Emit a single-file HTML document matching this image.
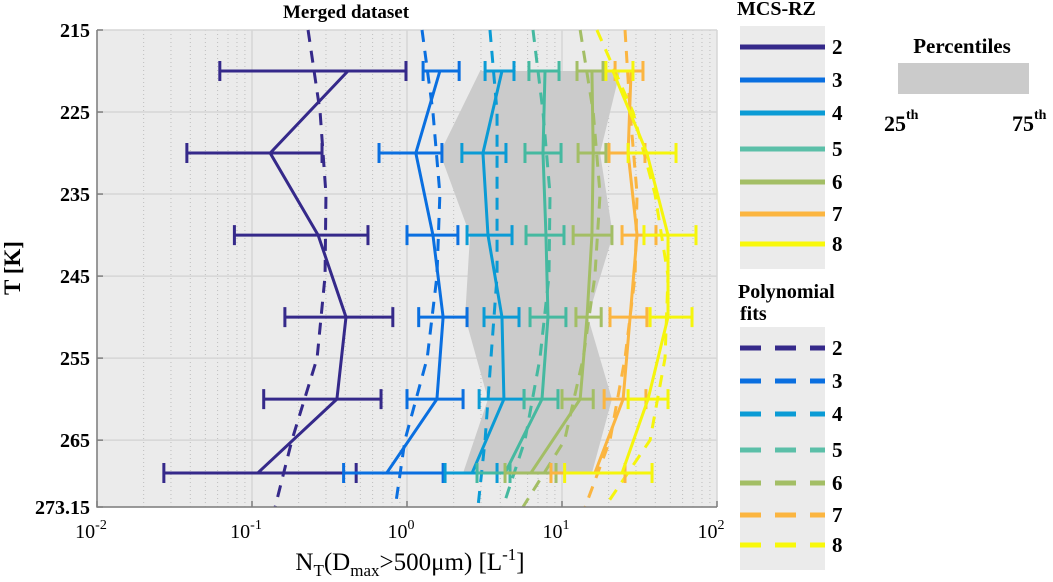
<!DOCTYPE html>
<html><head><meta charset="utf-8">
<style>
html,body{margin:0;padding:0;background:#fff;}
svg{display:block;font-family:"Liberation Serif",serif;}
</style></head>
<body>
<svg id="chart" width="1053" height="582" viewBox="0 0 1053 582" xmlns="http://www.w3.org/2000/svg">
<rect x="97" y="30" width="620" height="477" fill="#ebebeb"/>
<g id="grid"></g>
<polygon id="pct" fill="#cbcbcb"/>
<g id="fits"></g>
<g id="series"></g>
<g id="axes"></g>
<text x="346" y="18" font-size="19" font-weight="bold" text-anchor="middle">Merged dataset</text>
<text transform="translate(20,268) rotate(-90)" font-size="23" font-weight="bold" text-anchor="middle">T [K]</text>
<text x="410" y="570" font-size="25" text-anchor="middle">N<tspan font-size="17" dy="6">T</tspan><tspan dy="-6">(D</tspan><tspan font-size="17" dy="6">max</tspan><tspan dy="-6">&gt;500μm) [L</tspan><tspan font-size="17" dy="-10">-1</tspan><tspan dy="10">]</tspan></text>
<g id="legend1">
<text x="737" y="15" font-size="20" font-weight="bold">MCS-RZ</text>
<rect x="740" y="26" width="85" height="243" fill="#ebebeb"/>
</g>
<g id="legend2">
<text x="738" y="298" font-size="20" font-weight="bold">Polynomial</text>
<text x="740" y="320" font-size="20" font-weight="bold">fits</text>
<rect x="740" y="327" width="85" height="243" fill="#ebebeb"/>
</g>
<g>
<text x="962" y="53" font-size="21" font-weight="bold" text-anchor="middle">Percentiles</text>
<rect x="898" y="63" width="131" height="31" fill="#cbcbcb"/>
<text x="884" y="131" font-size="22" font-weight="bold">25<tspan font-size="14" dy="-12">th</tspan></text>
<text x="1012" y="131" font-size="22" font-weight="bold">75<tspan font-size="14" dy="-12">th</tspan></text>
</g>
</svg>
<script>
const rowT=[220,230,240,250,260,269];
const fitT=[215,225,235,245,255,265,273.15];
const labels=["2","3","4","5","6","7","8"];
const s2c=[0.416,0.131,0.267,0.404,0.353,0.109], s2lo=[0.062,0.038,0.077,0.163,0.119,0.027], s2hi=[0.985,0.283,0.56,0.81,0.68,0.47];
const s3c=[1.63,1.14,1.47,1.71,1.56,0.74], s3lo=[1.27,0.66,1.0,1.19,1.0,0.39], s3hi=[2.17,1.68,2.13,2.44,2.30,1.71];
const s4c=[4.10,3.09,3.33,4.10,4.22,2.63], s4lo=[3.19,2.26,2.44,3.14,2.92,1.76], s4hi=[4.90,4.35,4.76,5.28,5.69,3.81];
const s5c=[7.77,7.54,7.88,8.12,7.43,4.29], s5lo=[6.12,5.77,5.86,6.22,5.69,2.83], s5hi=[9.57,9.86,10.3,10.6,9.42,4.62];
const s6c=[15.6,15.9,15.6,14.5,13.1,6.3], s6lo=[12.5,12.7,11.8,12.3,10.0,4.29], s6hi=[18.4,19.2,21.0,17.9,15.9,9.15];
const s7c=[27.9,26.7,30.5,27.5,24.8,16.3], s7lo=[22.0,20.1,24.4,20.4,18.7,8.49], s7hi=[33.3,34.3,40.4,35.3,34.8,25.5];
const s8c=[21.3,35.3,48.3,48.3,35.9,24.4], s8lo=[19.2,26.7,33.8,37.0,26.7,10.4], s8hi=[28.7,54.4,73.2,69.0,48.3,38.1];
const f2=[0.23,0.275,0.30,0.296,0.263,0.181,0.141];
const f3=[1.25,1.47,1.63,1.56,1.35,0.97,0.84];
const f4=[3.43,3.81,3.81,3.81,3.48,3.19,2.87];
const f5=[6.5,7.54,8.37,8.24,7.21,5.77,4.16];
const f6=[13.1,15.9,17.6,16.3,13.7,10.4,5.6];
const f7=[25.5,27.5,30.5,29.6,25.5,20.4,14.1];
const f8=[16.8,28.7,39.8,48.3,46.2,37.0,18.9];
const p25=[2.96,1.63,2.55,2.37,3.33,2.30];
const p75=[23.7,17.6,21.3,14.7,21.0,15.6];
const colors=["#35298a","#0a6fe0","#0a9bd5","#45b9a0","#a3be65","#fbb540","#f5f50c"];
const legendColors=["#35298a","#0a6fe0","#0a9bd5","#5bbfa8","#a3be65","#fbb540","#f8f80a"];
const yTicks=[215,225,235,245,255,265,273.15];
const xTicks=[-2,-1,0,1,2];

const NS="http://www.w3.org/2000/svg";
const X0=97,X1=717,Y0=30,Y1=507;
function xs(v){return X0+(Math.log10(v)+2)/4*(X1-X0);}
function ys(t){return Y0+(t-215)/(273.15-215)*(Y1-Y0);}
function mk(tag,attrs,parent){const e=document.createElementNS(NS,tag);for(const k in attrs)e.setAttribute(k,attrs[k]);parent.appendChild(e);return e;}

const grid=document.getElementById('grid');
for(let d=-2;d<2;d++){for(let m=2;m<=9;m++){const x=xs(m*Math.pow(10,d));
 const l=mk('line',{x1:x,x2:x,y1:Y0,y2:Y1,stroke:'#bdbdbd','stroke-width':1,'stroke-dasharray':'1,3'},grid);
 
 }}
xTicks.forEach(p=>{const x=xs(Math.pow(10,p));const l=mk('line',{x1:x,x2:x,y1:Y0,y2:Y1,stroke:'#d6d6d6','stroke-width':1.5},grid);
 
 });
yTicks.forEach(t=>{const y=ys(t);const l=mk('line',{x1:X0,x2:X1,y1:y,y2:y,stroke:'#d6d6d6','stroke-width':1.5},grid);
 
 });

const pts=[];rowT.forEach((t,i)=>pts.push(xs(p25[i])+','+ys(t)));
for(let i=rowT.length-1;i>=0;i--)pts.push(xs(p75[i])+','+ys(rowT[i]));
document.getElementById('pct').setAttribute('points',pts.join(' '));

const fits=[f2,f3,f4,f5,f6,f7,f8];
const fg=document.getElementById('fits');
fits.forEach((f,k)=>{const p=mk('polyline',{points:f.map((v,i)=>xs(v)+','+ys(fitT[i])).join(' '),fill:'none',stroke:colors[k],'stroke-width':3,'stroke-dasharray':'12,9'},fg);
 
 });

const C=[s2c,s3c,s4c,s5c,s6c,s7c,s8c],LO=[s2lo,s3lo,s4lo,s5lo,s6lo,s7lo,s8lo],HI=[s2hi,s3hi,s4hi,s5hi,s6hi,s7hi,s8hi];
const sg=document.getElementById('series');
C.forEach((c,k)=>{const g=mk('g',{},sg);
 
 
 rowT.forEach((t,i)=>{const y=ys(t),a=xs(LO[k][i]),b=xs(HI[k][i]);
  const e=mk('path',{d:`M${a},${y}H${b}M${a},${y-10}V${y+10}M${b},${y-10}V${y+10}`,stroke:colors[k],'stroke-width':3,fill:'none'},g);
  
  });
 const p=mk('polyline',{points:c.map((v,i)=>xs(v)+','+ys(rowT[i])).join(' '),fill:'none',stroke:colors[k],'stroke-width':3},g);
 
 });

const ax=document.getElementById('axes');
const ab=mk('path',{d:`M${X0},${Y0}V${Y1}H${X1}`,stroke:'#7f7f7f','stroke-width':1.5,fill:'none'},ax);


yTicks.forEach(t=>{const y=ys(t);
 mk('line',{x1:X0,x2:X0+6,y1:y,y2:y,stroke:'#7f7f7f','stroke-width':1.5},ax);
 const tx=mk('text',{x:X0-7,y:y+7,'font-size':20,'font-weight':'bold','text-anchor':'end'},ax);tx.textContent=String(t);
 
 });
xTicks.forEach(p=>{const x=xs(Math.pow(10,p));
 mk('line',{x1:x,x2:x,y1:Y1,y2:Y1-6,stroke:'#7f7f7f','stroke-width':1.5},ax);
 const tx=mk('text',{x:x-6,y:Y1+31,'font-size':20,'text-anchor':'middle'},ax);
 
 
 tx.appendChild(document.createTextNode('10'));
 const sp=document.createElementNS(NS,'tspan');sp.setAttribute('font-size','14');sp.setAttribute('dy','-9');sp.textContent=String(p);tx.appendChild(sp);});

const l1Y=[47,80,113,149,182,214,244];
const l2Y=[348,381,414,450,483,515,545];
const L1=document.getElementById('legend1'),L2=document.getElementById('legend2');
labels.forEach((lab,k)=>{
 const a=mk('line',{x1:740,x2:825,y1:l1Y[k],y2:l1Y[k],stroke:legendColors[k],'stroke-width':5},L1);
 
 
 const t=mk('text',{x:832,y:l1Y[k]+7,'font-size':21,'font-weight':'bold'},L1);t.textContent=lab;
 
 
 const b=mk('line',{x1:740,x2:825,y1:l2Y[k],y2:l2Y[k],stroke:legendColors[k],'stroke-width':5,'stroke-dasharray':'21,14'},L2);
 
 
 const u=mk('text',{x:832,y:l2Y[k]+7,'font-size':21,'font-weight':'bold'},L2);u.textContent=lab;
 
 
});
</script>
</body></html>
